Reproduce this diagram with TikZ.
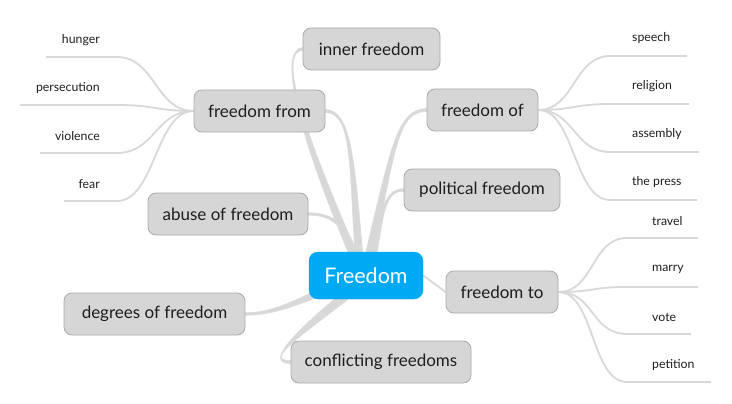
\documentclass[tikz,border=0pt]{standalone}
\usepackage{fontspec}
\setmainfont{Lato}
\usetikzlibrary{calc,backgrounds}
\definecolor{boxfill}{HTML}{D6D6D6}
\definecolor{boxline}{HTML}{A9A9A9}
\definecolor{rootblue}{HTML}{00A9F4}
\definecolor{linkgray}{HTML}{D8D8D8}
\definecolor{txt}{HTML}{1E1E1E}
\tikzset{
  topic/.style={draw=boxline, fill=boxfill, rounded corners=8pt, line width=0.8pt,
    minimum height=42pt, inner sep=0pt, text=txt, font=\fontsize{17}{20}\selectfont},
  central/.style={draw=rootblue, fill=rootblue, rounded corners=9pt, minimum width=114pt,
    minimum height=47pt, inner sep=0pt, text=white, font=\fontsize{21.5}{25}\selectfont},
  leaf/.style={inner sep=0pt, text=txt, font=\fontsize{12.3}{15}\selectfont},
  leafline/.style={draw=linkgray, line width=1.8pt},
  trunkfill/.style={fill=linkgray, draw=linkgray, line width=0.4pt},
}
\newcommand\trunk[6]{\fill[trunkfill] ($#1+#5$) .. controls ($#2+0.7*#5$) and ($#3+#6$) .. ($#4+#6$) -- ($#4-#6$) .. controls ($#3-#6$) and ($#2-0.7*#5$) .. ($#1-#5$) -- cycle;}
\begin{document}
\begin{tikzpicture}[x=1pt,y=-1pt]
\useasboundingbox (0,0) rectangle (732,404);
% main topics
\node[topic, minimum width=137pt] (inner) at (371.5,49) {inner freedom};
\node[topic, minimum width=131pt] (from) at (259.5,111) {freedom from};
\node[topic, minimum width=111pt] (of) at (482.5,110) {freedom of};
\node[topic, minimum width=156pt] (pol) at (482,190) {political freedom};
\node[topic, minimum width=160pt] (abuse) at (228,214) {abuse of freedom};
\node[central] (root) at (366,275.5) {Freedom};
\node[topic, minimum width=112pt] (to) at (502,292) {freedom to};
\node[topic, minimum width=181pt] (deg) at (154.5,314) {degrees of freedom};
\node[topic, minimum width=180pt] (conf) at (381,362) {conflicting freedoms};
% leaves left
\node[leaf, anchor=east] (hunger) at (100,40) {hunger};
\node[leaf, anchor=east] (persec) at (100,88) {persecution};
\node[leaf, anchor=east] (viol) at (100,136) {violence};
\node[leaf, anchor=east] (fear) at (100,184) {fear};
% leaves freedom of
\node[leaf, anchor=west] (speech) at (632,38) {speech};
\node[leaf, anchor=west] (relig) at (632,86) {religion};
\node[leaf, anchor=west] (assem) at (632,134) {assembly};
\node[leaf, anchor=west] (press) at (632,182) {the press};
% leaves freedom to
\node[leaf, anchor=west] (travel) at (652,221) {travel};
\node[leaf, anchor=west] (marry) at (652,269) {marry};
\node[leaf, anchor=west] (vote) at (652,317) {vote};
\node[leaf, anchor=west] (petit) at (652,365) {petition};
% line end coordinates
\coordinate (hungerA) at (46,57);   \coordinate (hungerB) at (117,57);
\coordinate (persecA) at (20,105);  \coordinate (persecB) at (117,105);
\coordinate (violA) at (40,153);    \coordinate (violB) at (117,153);
\coordinate (fearA) at (64,201);    \coordinate (fearB) at (117,201);
\coordinate (speechA) at (610,56);  \coordinate (speechB) at (687,56);
\coordinate (religA) at (610,104);  \coordinate (religB) at (689,104);
\coordinate (assemA) at (610,152);  \coordinate (assemB) at (699,152);
\coordinate (pressA) at (610,200);  \coordinate (pressB) at (697,200);
\coordinate (travelA) at (627,238); \coordinate (travelB) at (698,238);
\coordinate (marryA) at (627,287);  \coordinate (marryB) at (698,287);
\coordinate (voteA) at (627,334);   \coordinate (voteB) at (691,334);
\coordinate (petitA) at (627,382);  \coordinate (petitB) at (711,382);
\begin{scope}[on background layer]
% leaf connectors
\foreach \l in {hunger,persec,viol,fear}{
  \draw[leafline] (from.west) .. controls +(-38,0) and +(38,0) .. (\l B) -- (\l A);
}
\foreach \l in {speech,relig,assem,press}{
  \draw[leafline] (of.east) .. controls +(36,0) and +(-36,0) .. (\l A) -- (\l B);
}
\foreach \l in {travel,marry,vote,petit}{
  \draw[leafline] (to.east) .. controls +(36,0) and +(-36,0) .. (\l A) -- (\l B);
}
% trunks from the central topic
\trunk{(354,256)}{(292,112)}{(281,50)}{(inner.west)}{(3.7,-1.6)}{(0,1.5)}
\trunk{(359,256)}{(352,165)}{(352,111)}{(from.east)}{(4,0)}{(0,-1.5)}
\trunk{(369,256)}{(393,150)}{(397,110)}{(of.west)}{(3.9,0.9)}{(0,1.5)}
\trunk{(373,256)}{(382,215)}{(384,190)}{(pol.west)}{(3.2,0.8)}{(0,1.3)}
\trunk{(355,256)}{(346,228)}{(336,214)}{(abuse.east)}{(3,-1.5)}{(0,-1.2)}
\trunk{(322,292)}{(292,304)}{(272,314)}{(deg.east)}{(-1.2,-3.4)}{(0,-1.3)}
\trunk{(345,296)}{(290,340)}{(266,362)}{(conf.west)}{(-3,-3.4)}{(0,1.5)}
\draw[leafline] (root.east) -- (to.west);
\end{scope}
\end{tikzpicture}
\end{document}
